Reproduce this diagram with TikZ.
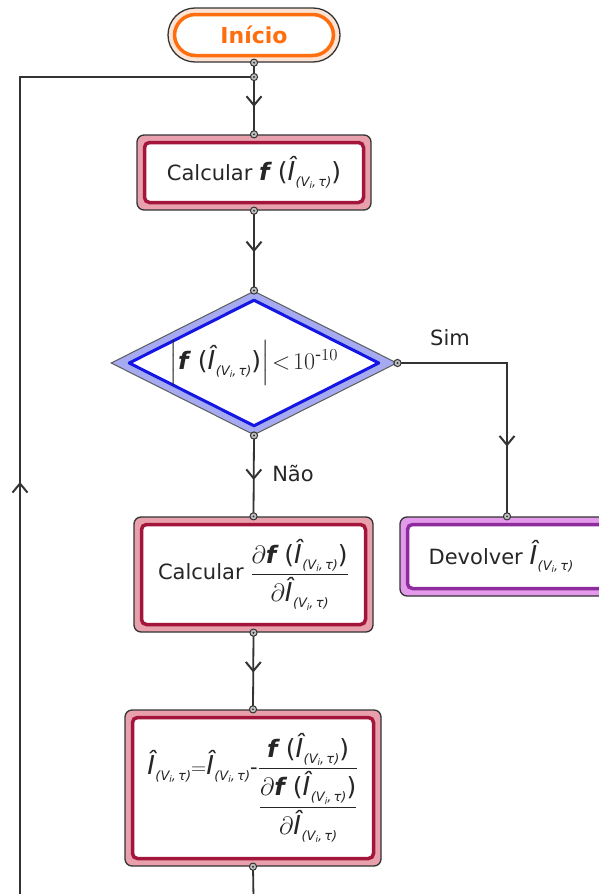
\RequirePackage{fix-cm}
\documentclass[tikz,border=0pt]{standalone}
\usepackage{amsmath}
\usepackage{fontspec}
\setmainfont{DejaVu Sans}
\usetikzlibrary{shapes.geometric,arrows.meta,decorations.markings}
\definecolor{linegray}{HTML}{333333}
\definecolor{peach}{HTML}{FCE3D4}
\definecolor{orangeline}{HTML}{FF6E0E}
\definecolor{boxpink}{HTML}{E8A1AC}
\definecolor{crimson}{HTML}{A3153B}
\definecolor{lightblue}{HTML}{A6AAF0}
\definecolor{blueline}{HTML}{1616E4}
\definecolor{violetfill}{HTML}{E49AEA}
\definecolor{purpleline}{HTML}{8E2C9E}
\newcommand{\Ih}{\mbox{\fontsize{26}{26}\selectfont\itshape Î\kern0.5pt\raisebox{-6pt}{\fontsize{13}{13}\selectfont\itshape (V\raisebox{-2.5pt}{\fontsize{9}{9}\selectfont i},\,τ)}}}
\newcommand{\fI}{\mbox{\fontsize{24}{24}\selectfont\bfseries\itshape f}}
\newcommand{\Lpar}{\mbox{\fontsize{25}{25}\selectfont (}}
\newcommand{\Rpar}{\mbox{\fontsize{25}{25}\selectfont )}}
\newcommand{\Dp}{\mbox{\fontsize{25}{25}\selectfont$\partial$}}
\newcommand{\fIh}{\fI\mkern7mu\Lpar\Ih\Rpar}
\newcommand{\mth}[2]{{\fontsize{#1}{#1}\selectfont$#2$}}
\tikzset{
  txt/.style={font=\fontsize{21}{25}\selectfont, text=black!85},
  outerbox/.style={draw=linegray, line width=1.3pt, rounded corners=7pt, inner sep=0pt, txt},
  procbox/.style={outerbox, fill=boxpink,
    path picture={\draw[draw=crimson, line width=3.5pt, fill=white, rounded corners=5pt]
      ([xshift=7.5pt,yshift=-7.5pt]path picture bounding box.north west) rectangle
      ([xshift=-7.5pt,yshift=7.5pt]path picture bounding box.south east);}},
  endbox/.style={outerbox, fill=violetfill,
    path picture={\draw[draw=purpleline, line width=3.5pt, fill=white, rounded corners=5pt]
      ([xshift=7.5pt,yshift=-7.5pt]path picture bounding box.north west) rectangle
      ([xshift=-7.5pt,yshift=7.5pt]path picture bounding box.south east);}},
  startbox/.style={draw=linegray, line width=1.3pt, rounded corners=27pt, inner sep=0pt,
    fill=peach, font=\fontsize{22}{26}\selectfont\bfseries, text=orangeline,
    path picture={\draw[draw=orangeline, line width=3.5pt, fill=white, rounded corners=21pt]
      ([xshift=6.5pt,yshift=-6.5pt]path picture bounding box.north west) rectangle
      ([xshift=-6.5pt,yshift=6.5pt]path picture bounding box.south east);}},
  decision/.style={diamond, aspect=2, draw=linegray!80, line width=1pt, fill=lightblue, inner sep=0pt, txt,
    path picture={\draw[draw=blueline, line width=3pt, fill=white, line join=round]
      ([yshift=-9pt]path picture bounding box.north) --
      ([xshift=-18pt]path picture bounding box.east) --
      ([yshift=9pt]path picture bounding box.south) --
      ([xshift=18pt]path picture bounding box.west) -- cycle;}},
  line/.style={draw=linegray, line width=1.8pt},
  arrowat/.style={postaction={decorate}, decoration={markings,
    mark=at position #1 with {\arrow{Straight Barb[length=9pt,width=15pt,line width=2pt]}}}},
  conn/.style={draw=linegray, fill=black!25, line width=1pt},
  lbl/.style={txt, inner sep=0pt}
}
\begin{document}
\begin{tikzpicture}[x=1pt,y=-1pt]
\useasboundingbox (0,0) rectangle (598,894);
\node[startbox, minimum width=172pt, minimum height=54pt] (ini) at (254,35) {Início};
\node[procbox, minimum width=234pt, minimum height=75pt] (calc) at (254,172.5) {Calcular \mth{21}{\fIh}};
\node[decision, minimum width=286pt, minimum height=144pt] (dec) at (254,363) {\mth{24}{\left|\fIh\right|\!<\!10^{\text{-}10}}};
\node[procbox, minimum width=239pt, minimum height=115pt] (der) at (253.5,574.5) {Calcular \mth{21}{\dfrac{\Dp\fIh}{\Dp\Ih}}};
\node[procbox, minimum width=256pt, minimum height=156pt] (upd) at (253,788) {\mth{21}{\Ih{=}\Ih{\text{-}}\dfrac{\fIh}{\dfrac{\Dp\fIh}{\Dp\Ih}}}};
\node[endbox, minimum width=214pt, minimum height=79pt] (dev) at (507,556.5) {\hspace*{-6pt}Devolver \mth{21}{\Ih}\hspace*{6pt}};
\node[lbl] (sim) at (450,338) {Sim};
\node[lbl] (nao) at (293,473) {Não};
\coordinate (J) at (254,77);
\coordinate (bl) at (254,930);
\coordinate (bll) at (20,930);
\coordinate (tl) at (20,77);
\draw[line] (ini.south) -- (J);
\draw[line, arrowat=0.52] (J) -- (calc.north);
\draw[line, arrowat=0.52] (calc.south) -- (dec.north);
\draw[line, arrowat=0.55] (dec.south) -- (der.north);
\draw[line, arrowat=0.52] (der.south) -- (upd.north);
\draw[line, arrowat=193pt] (dec.east) -| (dev.north);
\draw[line] (upd.south) -- (bl) -- (bll);
\draw[line, arrowat=448pt] (bll) -- (tl) -- (J);
\foreach \p in {ini.south, J, calc.north, calc.south, dec.north, dec.south, dec.east, der.north, der.south, upd.north, upd.south, dev.north} {
  \draw[conn] (\p) circle (3.6pt);
  \fill[linegray] (\p) circle (1.1pt);
}
\end{tikzpicture}
\end{document}
